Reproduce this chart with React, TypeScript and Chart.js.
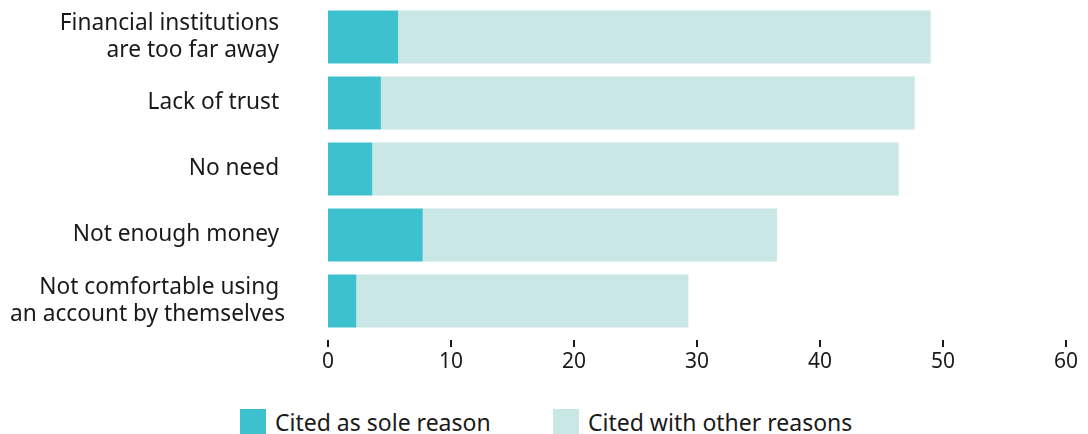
import React, { useEffect, useRef } from "react";
import { Chart, registerables } from "chart.js";

Chart.register(...registerables);

const categories: (string | string[])[] = [
  ["Financial institutions ", "are too far away "],
  "Lack of trust ",
  "No need ",
  "Not enough money ",
  ["Not comfortable using ", "an account by themselves"],
];

const soleReason = [5.7, 4.3, 3.6, 7.7, 2.3];
const withOtherReasons = [43.3, 43.4, 42.8, 28.8, 27.0];

const seriesLabels = ["Cited as sole reason", "Cited with other reasons"];
const seriesColors = ["#3EC1CE", "#C8E7E5"];

const xMin = 0;
const xMax = 60;
const xStep = 10;

const FONT = "Noto Sans";
const TEXT = "#1a1a1a";

// Short tick marks that sit a little below the plot area, above the labels
const tickMarksPlugin = {
  id: "tickMarks",
  afterDraw(chart: any) {
    const s = chart.scales.x;
    const ctx = chart.ctx;
    ctx.save();
    ctx.strokeStyle = TEXT;
    ctx.lineWidth = 2;
    s.ticks.forEach((t: any) => {
      const x = Math.round(s.getPixelForValue(t.value));
      ctx.beginPath();
      ctx.moveTo(x, s.top + 6);
      ctx.lineTo(x, s.top + 13);
      ctx.stroke();
    });
    ctx.restore();
  },
};

export default function App() {
  const canvasRef = useRef<HTMLCanvasElement | null>(null);

  useEffect(() => {
    let chart: Chart | null = null;
    let cancelled = false;
    const make = () => {
      if (cancelled || !canvasRef.current) return;
      chart = new Chart(canvasRef.current, {
        type: "bar",
        data: {
          labels: categories,
          datasets: [
            {
              label: seriesLabels[0],
              data: soleReason,
              backgroundColor: seriesColors[0],
              borderWidth: 0,
              barPercentage: 0.8,
              categoryPercentage: 1,
            },
            {
              label: seriesLabels[1],
              data: withOtherReasons,
              backgroundColor: seriesColors[1],
              borderWidth: 0,
              barPercentage: 0.8,
              categoryPercentage: 1,
            },
          ],
        },
        plugins: [tickMarksPlugin],
        options: {
          indexAxis: "y",
          animation: false,
          responsive: true,
          maintainAspectRatio: false,
          layout: { padding: { top: 4, right: 22, left: 0, bottom: 0 } },
          plugins: {
            legend: { display: false },
            tooltip: { enabled: false },
          },
          scales: {
            x: {
              stacked: true,
              min: xMin,
              max: xMax,
              border: { display: false },
              grid: {
                display: false,
                drawTicks: true,
                tickLength: 13,
              },
              ticks: {
                stepSize: xStep,
                color: TEXT,
                padding: 2,
                font: { family: FONT, size: 21 },
              },
              afterFit: (s: any) => {
                s.height = 66;
              },
            },
            y: {
              stacked: true,
              border: { display: false },
              grid: { display: false, drawTicks: true, tickLength: 43 },
              ticks: {
                color: TEXT,
                padding: 0,
                font: { family: FONT, size: 22.7, lineHeight: 1.15 },
              },
              afterFit: (s: any) => {
                s.width = 328;
                s.paddingTop = 0;
                s.paddingBottom = 0;
              },
            },
          },
        },
      });
    };
    if ((document as any).fonts && (document as any).fonts.load) {
      (document as any).fonts
        .load(`22px "${FONT}"`)
        .then(make)
        .catch(make);
    } else {
      make();
    }
    return () => {
      cancelled = true;
      if (chart) chart.destroy();
    };
  }, []);

  const legendItem = (i: number, left: number) => (
    <div
      key={i}
      style={{
        position: "absolute",
        left,
        top: 0,
        display: "flex",
        alignItems: "center",
        whiteSpace: "nowrap",
      }}
    >
      <div
        style={{
          width: 26,
          height: 26,
          background: seriesColors[i],
          marginRight: 9,
        }}
      />
      <span
        style={{
          fontFamily: FONT,
          fontSize: 23,
          lineHeight: "26px",
          color: TEXT,
        }}
      >
        {seriesLabels[i]}
      </span>
    </div>
  );

  return (
    <div
      style={{
        position: "absolute",
        left: 0,
        top: 0,
        width: 1088,
        height: 434,
        background: "#fff",
        overflow: "hidden",
      }}
    >
      <div style={{ position: "absolute", left: 0, top: 0, width: 1088, height: 400 }}>
        <canvas ref={canvasRef} />
      </div>
      <div style={{ position: "absolute", left: 0, top: 409, width: 1088, height: 26 }}>
        {legendItem(0, 240)}
        {legendItem(1, 553)}
      </div>
    </div>
  );
}
